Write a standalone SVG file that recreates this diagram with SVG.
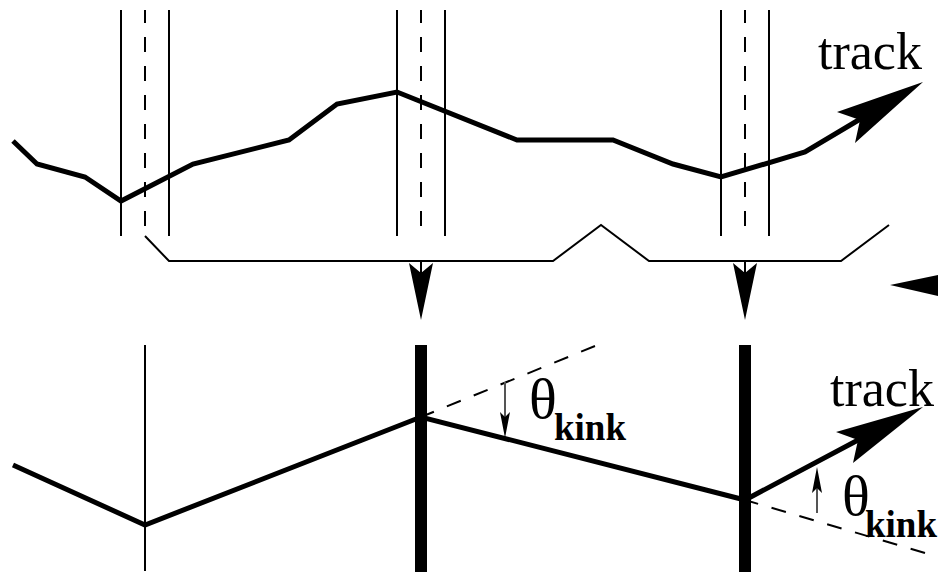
<svg xmlns="http://www.w3.org/2000/svg" width="938" height="572" viewBox="0 0 938 572">
<style>
.thin{fill:none;stroke:#000;stroke-width:2}
.dash{fill:none;stroke:#000;stroke-width:2;stroke-dasharray:15 14}
.thick{fill:none;stroke:#000;stroke-width:5;stroke-linejoin:miter}
.grey{fill:none;stroke:#555;stroke-width:2}
.head{fill:#000;stroke:none}
.bar{fill:#000}
.t{font-family:"Liberation Serif","Times New Roman",serif;font-size:52px;fill:#000}
.th{font-family:"Liberation Serif","Times New Roman",serif;font-size:58px;fill:#000}
.k{font-family:"Liberation Serif","Times New Roman",serif;font-size:37px;font-weight:bold;fill:#000}
</style>
<rect width="938" height="572" fill="#fff"/>
<g id="connectors">
<path class="thin" d="M121 10V236M169 10V236M397 10V236M445 10V236M721 10V236M769 10V236"/>
<path class="dash" stroke-dashoffset="2" d="M145 10V236M421 10V236M745 10V236"/>
<path class="thick" d="M13 141L37 164L85 177L121 201L193 164L289 140L337 104L397 92L517 140L613 140L673 164L721 177L805 152L862 118"/>
<path class="head" d="M923 82L837 112L860 120L855 143Z"/>
<path class="thin" d="M145 236L169 261H553L601 225L649 261H841L889 225"/>
<path class="thin" d="M421 261V280M745 261V280"/>
<path class="head" d="M421 320L409 263L421 273L433 263ZM745 320L733 263L745 273L757 263Z"/>
<path class="head" d="M890 285L938 275V296Z"/>
<path class="thin" d="M145 345V571"/>
<path class="thick" d="M13 465L145 525L421 417L745 500L860 439"/>
<path class="head" d="M923 407L836 432L858 440L853 463Z"/>
<path class="dash" d="M595 346L421 417M925 553L745 500"/>
<path class="grey" d="M505 382V425M817 513V480"/>
<path class="head" d="M505 438L500 412L505 417L510 412ZM817 467L812 493L817 488L822 493Z"/>
</g>
<g id="bar-1"><rect class="bar" x="415" y="345" width="12" height="227"/></g>
<g id="bar-2"><rect class="bar" x="739" y="345" width="12" height="227"/></g>
<g id="label-track-top"><text class="t" x="818" y="69">track</text></g>
<g id="label-track-bottom"><text class="t" x="830" y="406">track</text></g>
<g id="label-kink-1"><text class="th" x="529" y="418">θ</text><text class="k" x="554" y="440">kink</text></g>
<g id="label-kink-2"><text class="th" x="842" y="515">θ</text><text class="k" x="865" y="537">kink</text></g>
</svg>
